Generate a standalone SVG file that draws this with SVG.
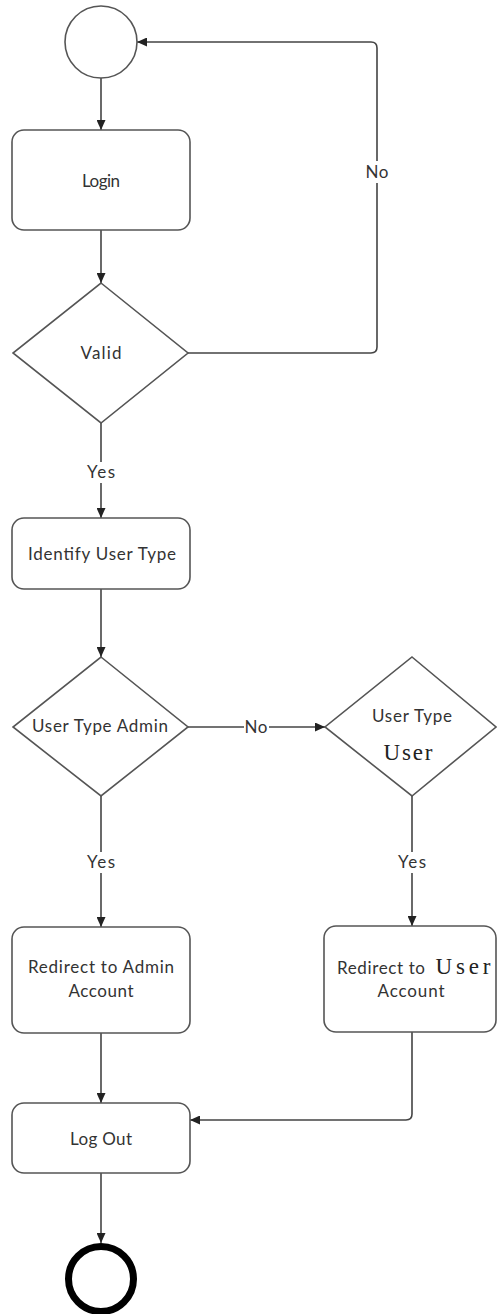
<svg xmlns="http://www.w3.org/2000/svg" width="497" height="1314" viewBox="0 0 497 1314">
<defs>
<marker id="arr" markerUnits="userSpaceOnUse" markerWidth="10" markerHeight="9" refX="10" refY="4.5" orient="auto">
<path d="M0,0 L10,4.5 L0,9 z" fill="#222"/>
</marker>
<style>
.shape{fill:#fff;stroke:#555;stroke-width:1.6}
.conn{fill:none;stroke:#444;stroke-width:1.6}
.t{font-family:Lato,"Liberation Sans",Arial,sans-serif;font-size:17px;fill:#333;text-anchor:middle}
.s{font-family:"Liberation Serif","Times New Roman",serif;font-size:23px;fill:#222;text-anchor:middle}
.bg{fill:#fff}
</style>
</defs>
<rect width="497" height="1314" fill="#fff"/>

<g id="connectors">
<path class="conn" d="M101,78 V130" marker-end="url(#arr)"/>
<path class="conn" d="M101,230 V283" marker-end="url(#arr)"/>
<path class="conn" d="M101,423 V518" marker-end="url(#arr)"/>
<path class="conn" d="M188,353 H371 Q377,353 377,347 V48 Q377,42 371,42 H137" marker-end="url(#arr)"/>
<path class="conn" d="M101,589 V657" marker-end="url(#arr)"/>
<path class="conn" d="M188,727 H325" marker-end="url(#arr)"/>
<path class="conn" d="M101,796 V927" marker-end="url(#arr)"/>
<path class="conn" d="M412,796 V926" marker-end="url(#arr)"/>
<path class="conn" d="M101,1033 V1103" marker-end="url(#arr)"/>
<path class="conn" d="M412,1032 V1114 Q412,1120 406,1120 H190" marker-end="url(#arr)"/>
<path class="conn" d="M101,1173 V1243" marker-end="url(#arr)"/>
<rect class="bg" x="362" y="161" width="30" height="22"/>
<text class="t" x="377" y="178" textLength="23">No</text>
<rect class="bg" x="84" y="462" width="34" height="21"/>
<text class="t" x="101" y="478" textLength="28">Yes</text>
<rect class="bg" x="244" y="718" width="25" height="18"/>
<text class="t" x="256" y="733" textLength="23">No</text>
<rect class="bg" x="84" y="852" width="34" height="21"/>
<text class="t" x="101" y="868" textLength="28">Yes</text>
<rect class="bg" x="395" y="852" width="34" height="21"/>
<text class="t" x="412" y="868" textLength="28">Yes</text>
</g>

<g id="start">
<circle class="shape" cx="101" cy="42" r="36"/>
</g>

<g id="login">
<rect class="shape" x="12" y="130" width="178" height="100" rx="12"/>
<text class="t" x="101" y="187" textLength="38">Login</text>
</g>

<g id="valid">
<polygon class="shape" points="101,283 188,353 101,423 13,353"/>
<text class="t" x="101" y="359" textLength="41">Valid</text>
</g>

<g id="identify">
<rect class="shape" x="12" y="518" width="178" height="71" rx="12"/>
<text class="t" x="102" y="560" textLength="148">Identify User Type</text>
</g>

<g id="admin-decision">
<polygon class="shape" points="101,657 188,727 101,796 13,727"/>
<text class="t" x="100" y="732" textLength="136">User Type Admin</text>
</g>

<g id="user-decision">
<polygon class="shape" points="412,657 496,727 412,796 325,727"/>
<text class="t" x="412" y="722" textLength="80">User Type</text>
<text class="s" x="408" y="760" textLength="49">User</text>
</g>

<g id="redirect-admin">
<rect class="shape" x="12" y="927" width="178" height="106" rx="12"/>
<text class="t" x="101" y="973" textLength="146">Redirect to Admin</text>
<text class="t" x="101" y="997" textLength="65">Account</text>
</g>

<g id="redirect-user">
<rect class="shape" x="324" y="926" width="172" height="106" rx="12"/>
<text class="t" x="381" y="974" textLength="88">Redirect to</text>
<text class="s" x="463" y="974" textLength="55">User</text>
<text class="t" x="411" y="997" textLength="67">Account</text>
</g>

<g id="logout">
<rect class="shape" x="12" y="1103" width="178" height="70" rx="12"/>
<text class="t" x="101" y="1145" textLength="62">Log Out</text>
</g>

<g id="end">
<circle cx="101" cy="1279" r="32.5" fill="#fff" stroke="#000" stroke-width="7"/>
</g>
</svg>
